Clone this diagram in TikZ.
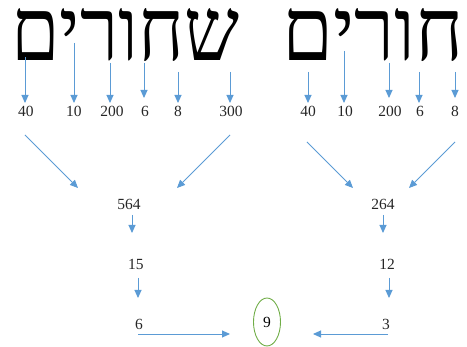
\documentclass[tikz,border=0pt]{standalone}
\usepackage{fontspec}
\setmainfont{Liberation Serif}
\newfontfamily\hebfont[Script=Hebrew]{Liberation Serif}
\TeXXeTstate=1
\usetikzlibrary{arrows.meta,shapes.geometric}
\definecolor{arrblue}{HTML}{5B9BD5}
\definecolor{ovalgreen}{HTML}{70AD47}
\tikzset{
 arr/.style={draw=arrblue, line width=0.9pt, -{Triangle[width=7pt,length=8pt]}},
 num/.style={inner sep=0pt, font=\fontsize{15.5}{16}\selectfont, text=black!85},
 word/.style={inner sep=0pt, anchor=south west},
}
\begin{document}
\begin{tikzpicture}[x=1pt,y=-1pt]
\useasboundingbox (0,0) rectangle (467,347);
% words
\node[word] (wL) at (11,62) {\resizebox{228pt}{52pt}{\hebfont\beginR שחורים\endR}};
\node[word] (wR) at (282,62) {\resizebox{182pt}{52pt}{\hebfont\beginR חורים\endR}};
% left numbers
\node[num] (a40) at (26,111) {40};
\node[num] (a10) at (74,111) {10};
\node[num] (a200) at (112,111) {200};
\node[num] (a6) at (145,111) {6};
\node[num] (a8) at (178,111) {8};
\node[num] (a300) at (231,111) {300};
% right numbers
\node[num] (b40) at (308,111) {40};
\node[num] (b10) at (345,111) {10};
\node[num] (b200) at (390,111) {200};
\node[num] (b6) at (420,111) {6};
\node[num] (b8) at (455,111) {8};
% letter anchors
\coordinate (la40) at (25,57);
\coordinate (la10) at (74,43);
\coordinate (la200) at (110,63);
\coordinate (la6) at (144,63);
\coordinate (la8) at (178,72);
\coordinate (la300) at (230,72);
\coordinate (lb40) at (308,72);
\coordinate (lb10) at (344,51);
\coordinate (lb200) at (389,63);
\coordinate (lb6) at (419,72);
\coordinate (lb8) at (455,72);
\foreach \n/\e in {la40/103,la10/103,la200/103,la6/98,la8/103,la300/103,lb40/103,lb10/103,lb200/98,lb6/103,lb8/98}
  \draw[arr] (\n) -- (\n |- 0,\e);
% sums
\node[num] (s564) at (129,204) {564};
\node[num] (s264) at (383,204) {264};
\coordinate (d1s) at (25,135); \coordinate (d1e) at (78,188);
\coordinate (d2s) at (230,135); \coordinate (d2e) at (177,188);
\coordinate (d3s) at (307,142); \coordinate (d3e) at (353,188);
\coordinate (d4s) at (455,142); \coordinate (d4e) at (409,188);
\draw[arr] (d1s) -- (d1e);
\draw[arr] (d2s) -- (d2e);
\draw[arr] (d3s) -- (d3e);
\draw[arr] (d4s) -- (d4e);
% reductions
\node[num] (r15) at (136,264) {15};
\node[num] (r12) at (387,264) {12};
\node[num] (r6) at (139,324) {6};
\node[num] (r3) at (386,324) {3};
\node[ellipse, draw=ovalgreen, line width=0.9pt, minimum width=27pt, minimum height=48pt, inner sep=0pt, font=\fontsize{15.5}{16}\selectfont] (n9) at (267,322) {9};
\draw[arr] (132,215) coordinate (v1s) -- (132,233) coordinate (v1e);
\draw[arr] (383,215) coordinate (v2s) -- (383,233) coordinate (v2e);
\draw[arr] (138,278) coordinate (v3s) -- (138,298) coordinate (v3e);
\draw[arr] (389,278) coordinate (v4s) -- (389,298) coordinate (v4e);
\coordinate (h6s) at (138,334); \coordinate (h6e) at (230,334);
\coordinate (h3s) at (388,334); \coordinate (h3e) at (313,334);
\draw[arr] (h6s) -- (h6e);
\draw[arr] (h3s) -- (h3e);
\end{tikzpicture}
\end{document}
